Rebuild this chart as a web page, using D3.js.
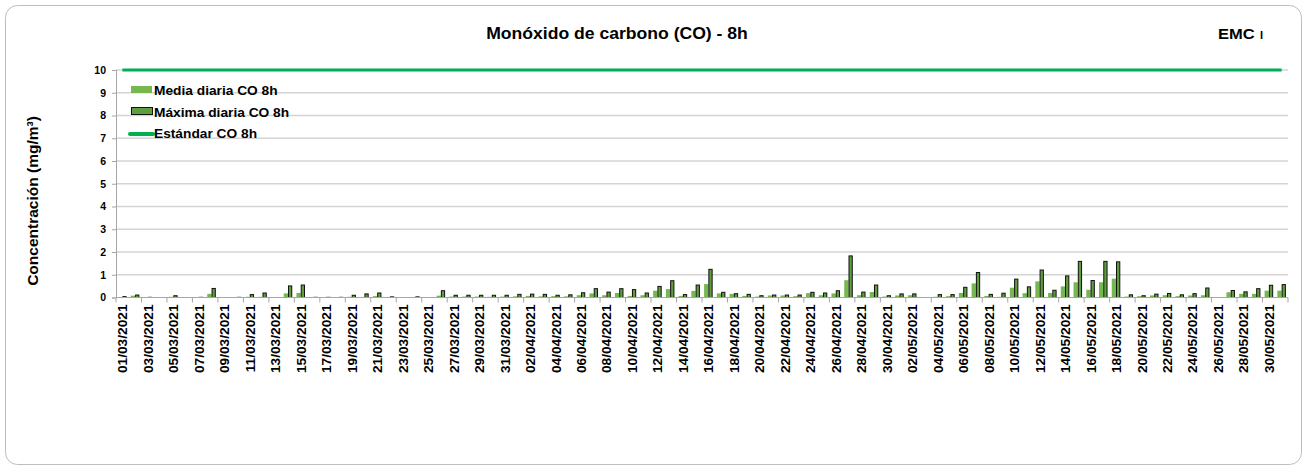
<!DOCTYPE html>
<html>
<head>
<meta charset="utf-8">
<script src="https://cdn.jsdelivr.net/npm/d3@7"></script>
<style>
  body { margin: 0; background: #fff; }
  text { font-family: Arial, "Liberation Sans", sans-serif; font-weight: bold; fill: #000; }
</style>
</head>
<body>
<div id="chart"></div>
<script>
const WIDTH = 1306
const HEIGHT = 468

// Data
const dias = d3.timeDay.range(new Date(2021, 2, 1), new Date(2021, 5, 1))
const fmt = d3.timeFormat("%d/%m/%Y")
const fechas = dias.map(fmt)

const media = [
  0.02, 0.08, 0.02, null, 0.03, null, 0.02, 0.16, null, 0.02,
  0.03, 0.03, null, 0.18, 0.20, 0.02, 0.02, 0.02, 0.03, 0.02,
  0.06, 0.02, null, 0.02, null, 0.08, 0.04, 0.04, 0.04, 0.03,
  0.04, 0.05, 0.07, 0.05, 0.06, 0.05, 0.10, 0.18, 0.10, 0.20,
  0.07, 0.10, 0.30, 0.37, 0.07, 0.29, 0.59, 0.18, 0.16, 0.07,
  0.04, 0.09, 0.09, 0.06, 0.19, 0.10, 0.18, 0.76, 0.10, 0.24,
  0.04, 0.09, 0.10, null, 0.03, 0.06, 0.20, 0.62, 0.07, 0.03,
  0.43, 0.19, 0.71, 0.20, 0.49, 0.67, 0.34, 0.67, 0.83, 0.04,
  0.06, 0.09, 0.10, 0.06, 0.09, 0.10, null, 0.23, 0.16, 0.16,
  0.30, 0.30
]

const maxima = [
  0.06, 0.13, 0.03, null, 0.10, null, 0.03, 0.42, null, 0.03,
  0.15, 0.22, null, 0.53, 0.57, 0.03, 0.03, 0.03, 0.12, 0.18,
  0.22, 0.05, null, 0.05, null, 0.32, 0.12, 0.12, 0.12, 0.12,
  0.12, 0.16, 0.17, 0.16, 0.12, 0.14, 0.23, 0.41, 0.26, 0.41,
  0.37, 0.22, 0.51, 0.76, 0.15, 0.57, 1.26, 0.25, 0.19, 0.16,
  0.10, 0.13, 0.13, 0.13, 0.25, 0.22, 0.32, 1.85, 0.26, 0.57,
  0.10, 0.18, 0.18, null, 0.15, 0.15, 0.47, 1.12, 0.16, 0.21,
  0.83, 0.49, 1.23, 0.34, 0.97, 1.61, 0.77, 1.61, 1.59, 0.14,
  0.10, 0.17, 0.20, 0.14, 0.19, 0.44, null, 0.33, 0.27, 0.41,
  0.56, 0.59
]

const estandar = fechas.map(() => 10)
const yTicks = [0, 1, 2, 3, 4, 5, 6, 7, 8, 9, 10]
const series = ["Media diaria CO 8h", "Máxima diaria CO 8h", "Estándar CO 8h"]

const COL_MEDIA = "#77b752"
const COL_MAX = "#5f9e3e"
const COL_STD = "#00b050"

const mLeft = 116, mRight = 1288, mTop = 70, mBottom = 297.5
const SX = 1.1 // el original esta un poco estirado en horizontal

const svg = d3.select("#chart")
    .append("svg")
    .attr("width", WIDTH)
    .attr("height", HEIGHT)

// marco
svg.append("rect")
    .attr("x", 5.5).attr("y", 5.5)
    .attr("width", 1296).attr("height", 459)
    .attr("rx", 12)
    .attr("fill", "#fff")
    .attr("stroke", "#bdbdbd")

const x = d3.scaleBand().domain(fechas).range([mLeft, mRight])
const xSub = d3.scaleBand().domain(["media", "max"])
    .range([2.1, x.bandwidth() - 2.1])
const y = d3.scaleLinear().domain([0, 10]).range([mBottom, mTop])

// grid
svg.append("g")
    .selectAll("line")
    .data(yTicks.filter(d => d > 0))
    .enter().append("line")
    .attr("x1", mLeft).attr("x2", mRight)
    .attr("y1", d => y(d)).attr("y2", d => y(d))
    .attr("stroke", "#d4d4d4")
    .attr("stroke-width", 1.5)

// eje y
const yAxis = svg.append("g")
    .attr("transform", `translate(${mLeft},0)`)
    .call(d3.axisLeft(y).tickValues(yTicks).tickSize(4).tickPadding(6))
yAxis.select(".domain").attr("stroke", "#a6a6a6")
yAxis.selectAll(".tick line").attr("stroke", "#a6a6a6")
yAxis.selectAll(".tick text")
    .style("font-size", "10.5px")
    .style("font-family", "Arial, 'Liberation Sans', sans-serif")
    .style("font-weight", "bold")

// barras
const grupos = svg.append("g")
    .selectAll("g")
    .data(fechas)
    .enter().append("g")
    .attr("transform", d => `translate(${x(d)},0)`)

grupos.filter((d, i) => media[i] != null)
    .append("rect")
    .attr("x", xSub("media"))
    .attr("width", xSub.bandwidth())
    .attr("y", d => y(media[fechas.indexOf(d)]))
    .attr("height", d => mBottom - y(media[fechas.indexOf(d)]))
    .attr("fill", COL_MEDIA)

grupos.filter((d, i) => maxima[i] != null)
    .append("rect")
    .attr("x", xSub("max") + 0.5)
    .attr("width", xSub.bandwidth() - 1)
    .attr("y", d => y(maxima[fechas.indexOf(d)]) + 0.5)
    .attr("height", d => Math.max(0, mBottom - y(maxima[fechas.indexOf(d)]) - 0.5))
    .attr("fill", COL_MAX)
    .attr("stroke", "#111")
    .attr("stroke-width", 1)

// eje x
svg.append("line")
    .attr("x1", mLeft).attr("x2", mRight)
    .attr("y1", mBottom).attr("y2", mBottom)
    .attr("stroke", "#a6a6a6")

const pares = fechas.filter((d, i) => i % 2 === 0)
svg.append("g")
    .selectAll("line")
    .data(pares.map(d => x(d)).concat([mRight]))
    .enter().append("line")
    .attr("x1", d => d).attr("x2", d => d)
    .attr("y1", mBottom).attr("y2", mBottom + 5)
    .attr("stroke", "#a6a6a6")

svg.append("g")
    .selectAll("text")
    .data(pares)
    .enter().append("text")
    .attr("transform", d => `translate(${x(d) + x.bandwidth() / 2 + 5},${mBottom + 7}) rotate(-90)`)
    .attr("text-anchor", "end")
    .style("font-size", "13.7px")
    .text(d => d)

// linea estandar
const linea = d3.line()
    .x((d, i) => x(fechas[i]) + x.bandwidth() / 2)
    .y(d => y(d))
svg.append("path")
    .datum(estandar)
    .attr("d", linea)
    .attr("fill", "none")
    .attr("stroke", COL_STD)
    .attr("stroke-width", 3)

// titulos
svg.append("text")
    .attr("transform", `translate(617,39) scale(${SX},1)`)
    .attr("text-anchor", "middle")
    .style("font-size", "16px")
    .text("Monóxido de carbono (CO) - 8h")

const emc = svg.append("text")
    .attr("transform", `translate(1218,39) scale(${SX},1)`)
    .style("font-size", "15px")
emc.append("tspan").text("EMC")
emc.append("tspan").attr("dx", 5).style("font-size", "10px").text("I")

svg.append("text")
    .attr("transform", "translate(38,201) rotate(-90)")
    .attr("text-anchor", "middle")
    .style("font-size", "15.5px")
    .text("Concentración (mg/m³)")

// leyenda
const ley = svg.append("g")
ley.append("rect").attr("x", 131).attr("y", 86).attr("width", 21).attr("height", 7).attr("fill", COL_MEDIA)
ley.append("rect").attr("x", 131.5).attr("y", 107.5).attr("width", 21).attr("height", 7)
    .attr("fill", COL_MAX).attr("stroke", "#111")
ley.append("line").attr("x1", 130).attr("x2", 153).attr("y1", 134).attr("y2", 134)
    .attr("stroke", COL_STD).attr("stroke-width", 4).attr("stroke-linecap", "round")

ley.selectAll("text")
    .data(series)
    .enter().append("text")
    .attr("transform", (d, i) => `translate(154,${95 + i * 21.5}) scale(${SX},1)`)
    .style("font-size", "12.5px")
    .text(d => d)
</script>
</body>
</html>
